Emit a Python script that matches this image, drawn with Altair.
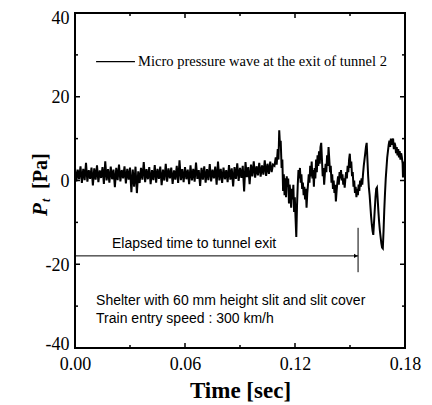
import altair as alt
import pandas as pd

# ---------------- data ----------------
SAMPLE_DT = 0.00075  # s, sampling interval of the quiet part of the record

noise_p = [
    3.0, -0.2, 2.6, 0.3, 3.4, -0.6, 2.8, 0.1, 4.2, -0.3, 2.5, 0.4, 3.1, -1.2, 2.9, 0.2, 3.6, -0.4, 2.4, 0.6,
    3.2, -0.8, 4.6, 0.0, 2.7, -0.5, 3.3, 0.3, 2.6, -1.6, 3.0, 0.1, 3.8, -0.2, 2.5, 0.5, 3.4, -0.7, 2.8, 0.2,
    3.1, -2.8, 2.6, -1.5, 3.3, -3.0, 2.2, -0.6, 3.0, 0.2, 4.4, -0.4, 2.7, 0.3, 3.2, -0.9, 2.5, 0.1, 3.7, -0.5,
    2.8, 0.4, 3.3, -1.1, 2.6, 0.0, 4.0, -0.3, 2.9, 0.5, 3.1, -0.8, 2.4, 0.2, 3.5, -0.6, 4.8, 0.1, 2.7, -0.4,
    3.2, 0.3, 2.6, -0.9, 3.6, 0.0, 2.8, -0.3, 4.3, 0.4, 2.5, -1.3, 3.0, 0.2, 3.4, -0.5, 2.7, 0.1, 3.9, -0.2,
    2.6, 0.5, 3.3, -1.0, 4.5, 0.0, 2.8, -0.6, 3.1, 0.3, 2.5, -0.4, 3.7, 0.2, 2.9, -1.4, 3.2, 0.4, 4.1, -0.1,
    3.0, 0.6, 3.5, -2.6, 4.4, 0.8, 3.2, -0.9, 3.8, 1.0, 4.6, 0.7, 3.4, 1.2, 4.2, 0.9, 3.6, 1.4, 4.8, 1.1,
    4.0, 1.6, 4.5, 2.0, 3.8,
]

wave_t = [
    0.1088, 0.1095, 0.1100, 0.1106, 0.1110, 0.1114, 0.1118, 0.1122, 0.1127, 0.1131, 0.1135, 0.1139, 0.1143, 0.1147,
    0.1151, 0.1155, 0.1159, 0.1163, 0.1167, 0.1171, 0.1175, 0.1179, 0.1183, 0.1187, 0.1191, 0.1195, 0.1199, 0.1203,
    0.1207, 0.1211, 0.1215, 0.1219, 0.1223, 0.1227, 0.1231, 0.1235, 0.1239, 0.1243, 0.1247, 0.1251, 0.1255, 0.1259,
    0.1263, 0.1267, 0.1271, 0.1275, 0.1279, 0.1283, 0.1287, 0.1291, 0.1295, 0.1299, 0.1303, 0.1307, 0.1311, 0.1315,
    0.1319, 0.1323, 0.1327, 0.1331, 0.1335, 0.1339, 0.1343, 0.1347, 0.1351, 0.1355, 0.1359, 0.1363, 0.1367, 0.1371,
    0.1375, 0.1379, 0.1383, 0.1387, 0.1391, 0.1395, 0.1399, 0.1403, 0.1407, 0.1411, 0.1415, 0.1419, 0.1423, 0.1427,
    0.1431, 0.1435, 0.1439, 0.1443, 0.1447, 0.1451, 0.1455, 0.1459, 0.1463, 0.1467, 0.1471, 0.1475, 0.1479, 0.1483,
    0.1487, 0.1491, 0.1495, 0.1499, 0.1503, 0.1507, 0.1511, 0.1515, 0.1519, 0.1523, 0.1527, 0.1531, 0.1535, 0.1539,
    0.1543, 0.1547, 0.1551, 0.1555, 0.1559, 0.1563, 0.1567, 0.1571, 0.1575, 0.1579, 0.1583, 0.1587, 0.1591, 0.1595,
    0.1599, 0.1603, 0.1607, 0.1611, 0.1615, 0.1619, 0.1623, 0.1627, 0.1631, 0.1635, 0.1639, 0.1643, 0.1647, 0.1651,
    0.1655, 0.1659, 0.1663, 0.1667, 0.1671, 0.1675, 0.1679, 0.1683, 0.1687, 0.1691, 0.1695, 0.1699, 0.1703, 0.1707,
    0.1711, 0.1715, 0.1719, 0.1723, 0.1727, 0.1731, 0.1735, 0.1739, 0.1743, 0.1747, 0.1751, 0.1755, 0.1759, 0.1763,
    0.1767, 0.1771, 0.1775, 0.1779, 0.1783, 0.1787, 0.1789, 0.1793, 0.1797, 0.1800,
]
wave_p = [
    3.5, 5.5, 3.8, 7.5, 5.0, 12.0, 8.5, 9.5, 3.0, 5.0, -2.5, 1.5, -3.5, 0.5,
    -4.0, 1.0, -1.5, 0.5, -5.5, -1.0, -3.0, -6.5, -2.0, -4.5, -1.0, -7.5, -4.0, -9.0,
    -13.5, -6.0, -1.0, 2.5, 0.5, 3.0, -0.5, 1.5, -2.0, -0.5, -3.5, -1.5, -4.5, -2.0,
    -6.5, -3.0, -1.0, 1.5, -0.5, 3.5, 1.0, 4.5, 0.5, 2.5, -1.5, 3.0, 0.5, 5.0,
    2.0, 6.0, 3.5, 7.0, 4.0, 8.0, 9.0, 5.0, 1.0, 3.0, -1.0, 1.7, 4.0, 2.0,
    6.0, 3.5, 8.0, 5.0, 2.0, 3.5, -0.5, 1.5, -2.0, 0.0, -3.0, -1.0, -5.0, -2.5,
    -0.5, 1.0, -1.0, 2.0, 0.5, 2.5, 0.0, 1.5, -1.0, 0.5, -1.7, 0.5, 2.0, 0.5,
    3.5, 2.0, 5.0, 6.4, 3.0, 4.5, 1.0, 2.0, -1.5, 0.0, -3.0, -1.5, -4.0, -2.0,
    -3.5, -1.0, -2.5, 0.0, -1.5, 0.5, -1.0, 1.5, 3.5, 5.0, 6.5, 8.0, 9.0, 5.0,
    1.0, -1.7, -3.5, -6.0, -8.5, -10.5, -12.0, -13.0, -10.0, -7.0, -4.0, -2.0, -1.7, -4.5,
    -7.5, -10.0, -12.0, -13.5, -15.0, -16.0, -16.2, -12.0, -7.0, -3.0, 0.5, 3.0, 5.5, 7.0,
    8.5, 9.5, 8.0, 10.0, 8.5, 9.5, 10.0, 7.5, 9.0, 8.4, 6.5, 8.0, 6.0, 7.5,
    5.5, 7.0, 5.0, 6.5, 5.5, 4.0, 0.7, 4.5, 3.5, 4.0,
]

x_major = [0.0, 0.06, 0.12, 0.18]
x_minor = [0.03, 0.09, 0.15]
y_major = [-40, -20, 0, 20, 40]
y_minor = [-30, -10, 10, 30]

legend_label = ["Micro pressure wave at the exit of tunnel 2"]
elapsed_label = ["Elapsed time to tunnel exit"]
info_labels = ["Shelter with 60 mm height slit and slit cover", "Train entry speed : 300 km/h"]
info_p = [-29.7, -34.0]
elapsed_t = 0.1544  # s, time the train reaches the tunnel exit
# ---------------------------------------

t_all = [round(i * SAMPLE_DT, 5) for i in range(len(noise_p))] + wave_t
p_all = noise_p + wave_p
df = pd.DataFrame({"t": t_all, "p": p_all})

W, H = 330, 335
SERIF = "Liberation Serif"
SANS = "Liberation Sans"
xs = alt.Scale(domain=[0, 0.18], nice=False, zero=False)
ys = alt.Scale(domain=[-40, 40], nice=False, zero=False)

X_AXIS = alt.Axis(values=x_major, format=".2f", ticks=False, domain=False, grid=False,
                  labelFont=SERIF, labelFontSize=18, labelColor="black", labelPadding=7,
                  labelFlush=False, labelOverlap=False,
                  titleFont=SERIF, titleFontSize=23, titleFontWeight="bold",
                  titleColor="black", titlePadding=6)
Y_AXIS = alt.Axis(values=y_major, labelExpr="'' + datum.value", ticks=False, domain=False, grid=False,
                  labelFont=SERIF, labelFontSize=18, labelColor="black", labelPadding=6,
                  labelFlush=False, labelOverlap=False,
                  labelOffset={"condition": {"test": "datum.value === 40", "value": -4}, "value": 1},
                  labelBaseline={"condition": [
                      {"test": "datum.value === -40", "value": "alphabetic"},
                      {"test": "datum.value === 40", "value": "top"}],
                      "value": "middle"})


def X(field):
    return alt.X(field, scale=xs, axis=X_AXIS, title="Time [sec]")


def Y(field):
    return alt.Y(field, scale=ys, axis=Y_AXIS, title="")


line = alt.Chart(df).mark_line(color="black", strokeWidth=2, strokeJoin="miter").encode(
    x=X("t:Q"), y=Y("p:Q"))


def xticks(vals, length):
    d = pd.DataFrame({"t": vals})
    b = alt.Chart(d).mark_rule(color="black", strokeWidth=1.5).encode(
        x=X("t:Q"), y=alt.value(H), y2=alt.value(H - length))
    t = alt.Chart(d).mark_rule(color="black", strokeWidth=1.5).encode(
        x=X("t:Q"), y=alt.value(0), y2=alt.value(length))
    return [b, t]


def yticks(vals, length):
    d = pd.DataFrame({"p": vals})
    l = alt.Chart(d).mark_rule(color="black", strokeWidth=1.5).encode(
        y=Y("p:Q"), x=alt.value(0), x2=alt.value(length))
    r = alt.Chart(d).mark_rule(color="black", strokeWidth=1.5).encode(
        y=Y("p:Q"), x=alt.value(W), x2=alt.value(W - length))
    return [l, r]


ticks = xticks(x_major, 5) + xticks(x_minor, 3) + yticks(y_major, 5) + yticks(y_minor, 3)

# legend
leg_line = alt.Chart(pd.DataFrame({"t": [0.0115], "t1": [0.0327], "p": [28.4]})).mark_rule(
    color="black", strokeWidth=1.2).encode(x=X("t:Q"), x2="t1:Q", y=Y("p:Q"))
leg_text = alt.Chart(pd.DataFrame({"t": [0.0344], "p": [28.4], "s": legend_label})).mark_text(
    align="left", baseline="middle", font=SERIF, fontSize=14.5, color="black").encode(
    x=X("t:Q"), y=Y("p:Q"), text="s:N")

# elapsed-time arrow
arrow = alt.Chart(pd.DataFrame({"t": [0.0], "t1": [elapsed_t], "p": [-18.0]})).mark_rule(
    color="black", strokeWidth=1).encode(x=X("t:Q"), x2="t1:Q", y=Y("p:Q"))
arrow_head = alt.Chart(pd.DataFrame({"t": [elapsed_t - 0.0012], "p": [-18.0]})).mark_point(
    shape="triangle-right", filled=True, color="black", size=18, opacity=1).encode(
    x=X("t:Q"), y=Y("p:Q"))
bar = alt.Chart(pd.DataFrame({"t": [elapsed_t], "p": [-11.3], "p1": [-21.9]})).mark_rule(
    color="black", strokeWidth=1).encode(x=X("t:Q"), y=Y("p:Q"), y2="p1:Q")
elapsed_text = alt.Chart(pd.DataFrame({"t": [0.0202], "p": [-16.1], "s": elapsed_label})).mark_text(
    align="left", baseline="alphabetic", font=SANS, fontSize=14, color="black").encode(
    x=X("t:Q"), y=Y("p:Q"), text="s:N")

info_text = alt.Chart(pd.DataFrame({"t": [0.0115, 0.0115], "p": info_p, "s": info_labels})).mark_text(
    align="left", baseline="alphabetic", font=SANS, fontSize=14, color="black").encode(
    x=X("t:Q"), y=Y("p:Q"), text="s:N")

# y-axis title: P_t [Pa]
yt_P = alt.Chart(pd.DataFrame({"s": ["P"]})).mark_text(
    angle=270, align="left", baseline="alphabetic", font=SERIF, fontSize=21, fontWeight="bold",
    fontStyle="italic", color="black").encode(x=alt.value(-28), y=alt.value(203), text="s:N")
yt_t = alt.Chart(pd.DataFrame({"s": ["t"]})).mark_text(
    angle=270, align="left", baseline="alphabetic", font=SERIF, fontSize=12, fontWeight="bold",
    fontStyle="italic", color="black").encode(x=alt.value(-25), y=alt.value(189), text="s:N")
yt_Pa = alt.Chart(pd.DataFrame({"s": ["[Pa]"]})).mark_text(
    angle=270, align="left", baseline="alphabetic", font=SERIF, fontSize=20, fontWeight="bold",
    color="black").encode(x=alt.value(-28), y=alt.value(176), text="s:N")

chart = alt.layer(
    line, *ticks, leg_line, leg_text, arrow, arrow_head, bar, elapsed_text, info_text,
    yt_P, yt_t, yt_Pa,
).properties(
    width=W, height=H,
    autosize=alt.AutoSizeParams(type="none"),
    padding={"left": 67, "top": 5, "right": 19, "bottom": 56},
    background="white",
).configure_view(stroke="black", strokeWidth=2)

chart.save("out.html", embed_options={"renderer": "svg", "actions": False})
